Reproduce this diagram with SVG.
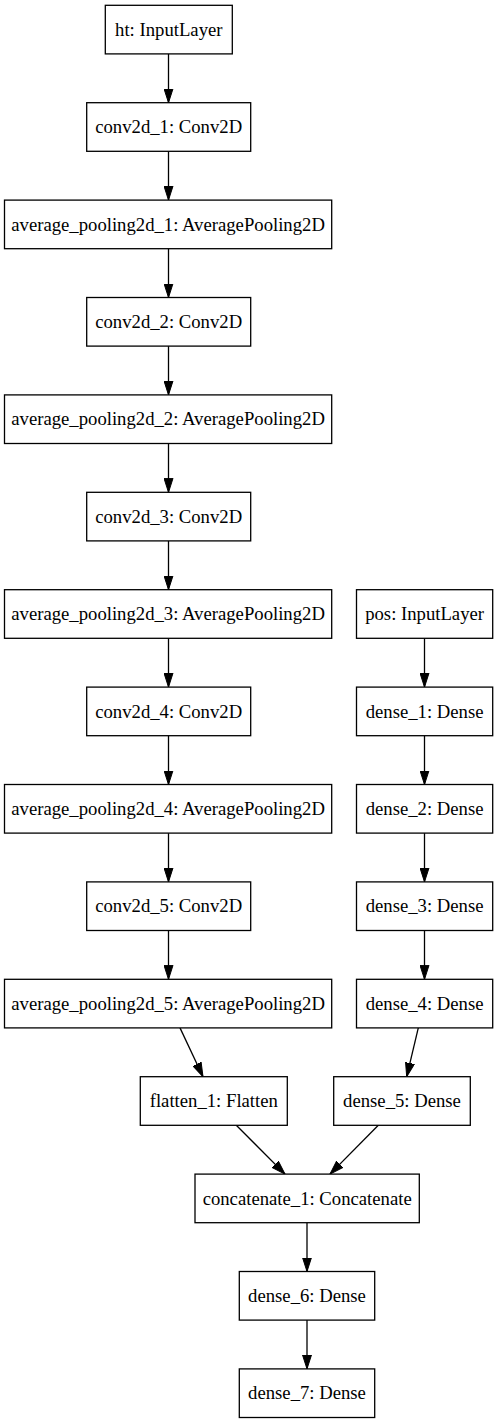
<svg xmlns="http://www.w3.org/2000/svg" width="499" height="1423" viewBox="0 0 499 1423">
<style>
.n rect{fill:#fff;stroke:#000;stroke-width:1.3}
.n text{font-family:"Liberation Serif","Times New Roman",serif;font-size:18.7px;fill:#000;text-anchor:middle}
.e{stroke:#000;stroke-width:1.3;fill:none;marker-end:url(#a)}
</style>
<defs>
<marker id="a" viewBox="0 0 14 10" refX="14" refY="5" markerWidth="14" markerHeight="10" markerUnits="userSpaceOnUse" orient="auto">
<path d="M0,0.5 L14,5 L0,9.5 z" fill="#000" stroke="#000" stroke-width="1"/>
</marker>
</defs>
<rect width="499" height="1423" fill="#fff"/>
<g id="connectors">
<line class="e" x1="168.5" y1="53.9" x2="168.5" y2="102.7"/>
<line class="e" x1="168.5" y1="151.3" x2="168.5" y2="200.1"/>
<line class="e" x1="168.5" y1="248.7" x2="168.5" y2="297.5"/>
<line class="e" x1="168.5" y1="346.1" x2="168.5" y2="394.9"/>
<line class="e" x1="168.5" y1="443.5" x2="168.5" y2="492.3"/>
<line class="e" x1="168.5" y1="540.9" x2="168.5" y2="589.7"/>
<line class="e" x1="168.5" y1="638.3" x2="168.5" y2="687.1"/>
<line class="e" x1="168.5" y1="735.7" x2="168.5" y2="784.5"/>
<line class="e" x1="168.5" y1="833.1" x2="168.5" y2="881.9"/>
<line class="e" x1="168.5" y1="930.5" x2="168.5" y2="979.3"/>
<line class="e" x1="424.5" y1="638.3" x2="424.5" y2="687.1"/>
<line class="e" x1="424.5" y1="735.7" x2="424.5" y2="784.5"/>
<line class="e" x1="424.5" y1="833.1" x2="424.5" y2="881.9"/>
<line class="e" x1="424.5" y1="930.5" x2="424.5" y2="979.3"/>
<line class="e" x1="180" y1="1027.9" x2="203" y2="1076.7"/>
<line class="e" x1="418.3" y1="1027.9" x2="406.7" y2="1076.7"/>
<line class="e" x1="236.3" y1="1125.3" x2="285" y2="1174.1"/>
<line class="e" x1="378.3" y1="1125.3" x2="330" y2="1174.1"/>
<line class="e" x1="307" y1="1222.7" x2="307" y2="1271.5"/>
<line class="e" x1="307" y1="1320.1" x2="307" y2="1368.9"/>
</g>
<g id="ht" class="n"><rect x="105.3" y="5.3" width="127" height="48.6"/><text x="168.8" y="35.8">ht: InputLayer</text></g>
<g id="conv2d_1" class="n"><rect x="86.7" y="102.7" width="164" height="48.6"/><text x="168.7" y="133.2">conv2d_1: Conv2D</text></g>
<g id="average_pooling2d_1" class="n"><rect x="4.5" y="200.1" width="327.2" height="48.6"/><text x="168.1" y="230.6">average_pooling2d_1: AveragePooling2D</text></g>
<g id="conv2d_2" class="n"><rect x="86.7" y="297.5" width="164" height="48.6"/><text x="168.7" y="328">conv2d_2: Conv2D</text></g>
<g id="average_pooling2d_2" class="n"><rect x="4.5" y="394.9" width="327.2" height="48.6"/><text x="168.1" y="425.4">average_pooling2d_2: AveragePooling2D</text></g>
<g id="conv2d_3" class="n"><rect x="86.7" y="492.3" width="164" height="48.6"/><text x="168.7" y="522.8">conv2d_3: Conv2D</text></g>
<g id="average_pooling2d_3" class="n"><rect x="4.5" y="589.7" width="327.2" height="48.6"/><text x="168.1" y="620.2">average_pooling2d_3: AveragePooling2D</text></g>
<g id="conv2d_4" class="n"><rect x="86.7" y="687.1" width="164" height="48.6"/><text x="168.7" y="717.6">conv2d_4: Conv2D</text></g>
<g id="average_pooling2d_4" class="n"><rect x="4.5" y="784.5" width="327.2" height="48.6"/><text x="168.1" y="815">average_pooling2d_4: AveragePooling2D</text></g>
<g id="conv2d_5" class="n"><rect x="86.7" y="881.9" width="164" height="48.6"/><text x="168.7" y="912.4">conv2d_5: Conv2D</text></g>
<g id="average_pooling2d_5" class="n"><rect x="4.5" y="979.3" width="327.2" height="48.6"/><text x="168.1" y="1009.8">average_pooling2d_5: AveragePooling2D</text></g>
<g id="pos" class="n"><rect x="356.5" y="589.7" width="136.2" height="48.6"/><text x="424.6" y="620.2">pos: InputLayer</text></g>
<g id="dense_1" class="n"><rect x="356.5" y="687.1" width="136.2" height="48.6"/><text x="424.6" y="717.6">dense_1: Dense</text></g>
<g id="dense_2" class="n"><rect x="356.5" y="784.5" width="136.2" height="48.6"/><text x="424.6" y="815">dense_2: Dense</text></g>
<g id="dense_3" class="n"><rect x="356.5" y="881.9" width="136.2" height="48.6"/><text x="424.6" y="912.4">dense_3: Dense</text></g>
<g id="dense_4" class="n"><rect x="356.5" y="979.3" width="136.2" height="48.6"/><text x="424.6" y="1009.8">dense_4: Dense</text></g>
<g id="flatten_1" class="n"><rect x="140.3" y="1076.7" width="147" height="48.6"/><text x="213.8" y="1107.2">flatten_1: Flatten</text></g>
<g id="dense_5" class="n"><rect x="333.7" y="1076.7" width="136.6" height="48.6"/><text x="402" y="1107.2">dense_5: Dense</text></g>
<g id="concatenate_1" class="n"><rect x="195" y="1174.1" width="224.3" height="48.6"/><text x="307.2" y="1204.6">concatenate_1: Concatenate</text></g>
<g id="dense_6" class="n"><rect x="239.3" y="1271.5" width="135.4" height="48.6"/><text x="307" y="1302">dense_6: Dense</text></g>
<g id="dense_7" class="n"><rect x="239.3" y="1368.9" width="135.4" height="48.6"/><text x="307" y="1399.4">dense_7: Dense</text></g>
</svg>
